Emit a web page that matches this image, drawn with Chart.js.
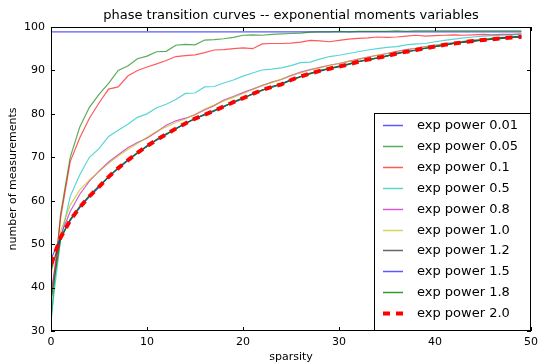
<!DOCTYPE html>
<html>
<head>
<meta charset="utf-8">
<script src="https://cdn.jsdelivr.net/npm/chart.js@4/dist/chart.umd.min.js"></script>
<style>
  html, body { margin: 0; padding: 0; background: #fff; }
</style>
</head>
<body>
<canvas id="chart" width="543" height="364"></canvas>
<script>
const chartTitle = "phase transition curves -- exponential moments variables";

const sparsity = [0, 1, 2, 3, 4, 5, 6, 7, 8, 9, 10, 11, 12, 13, 14, 15, 16, 17, 18, 19,
  20, 21, 22, 23, 24, 25, 26, 27, 28, 29, 30, 31, 32, 33, 34, 35, 36, 37, 38, 39,
  40, 41, 42, 43, 44, 45, 46, 47, 48, 49];

const xTicks = [0, 10, 20, 30, 40, 50];
const yTicks = [30, 40, 50, 60, 70, 80, 90, 100];

const power001 = [98.9, 98.9, 98.9, 98.9, 98.9, 98.9, 98.9, 98.9, 98.9, 98.9, 98.9, 98.9, 98.9, 98.9, 98.9, 98.9, 98.9, 98.9, 98.9, 98.9,
  98.9, 98.9, 98.9, 98.9, 98.9, 98.9, 98.9, 98.9, 98.9, 98.9, 98.9, 98.9, 98.9, 98.9, 98.9, 98.9, 98.9, 98.9, 98.9, 98.9,
  98.9, 98.9, 98.9, 98.9, 98.9, 98.9, 98.9, 98.9, 98.9, 98.9];
const power005 = [32, 57, 70, 77, 81.5, 84.5, 87, 90, 91, 92.7, 93.3, 94.3, 94.4, 95.8, 96, 95.9, 97, 97.1, 97.3, 97.6,
  98.1, 98.2, 98.1, 98.3, 98.4, 98.5, 98.6, 98.8, 98.9, 98.9, 99, 98.9, 99, 99, 99, 99, 99.1, 99, 99.1, 99.1,
  99.1, 99.1, 99.1, 99.1, 99.1, 99.1, 99.1, 99.1, 99.1, 99.1];
const power01 = [37, 56, 69, 74.5, 79, 82.5, 85.7, 86.2, 88.7, 90, 90.8, 91.5, 92.3, 93.2, 93.4, 93.6, 94.1, 94.7, 94.8, 95,
  95.2, 95, 96.1, 96.2, 96.2, 96.3, 96.5, 96.9, 96.8, 96.6, 96.9, 97.2, 97.4, 97.5, 97.7, 97.6, 97.7, 97.9, 98.1, 97.9,
  98, 98.1, 98.2, 98.1, 98.2, 98.3, 98.2, 98.3, 98.3, 98.4];
const power05 = [33, 51, 61, 66, 70, 72, 74.8, 76.2, 77.6, 79.2, 80, 81.4, 82.2, 83.3, 84.7, 84.8, 86.2, 86.3, 87.1, 87.8,
  88.7, 89.4, 90.1, 90.3, 90.6, 91.1, 91.8, 91.9, 92.6, 93.2, 93.5, 93.9, 94.3, 94.7, 95, 95.3, 95.5, 95.9, 96.1, 96.2,
  96.6, 96.9, 97.2, 97.5, 97.7, 97.9, 98, 98.1, 98.2, 98.3];
const power08 = [39, 52, 57.5, 61.5, 64.5, 66.8, 68.9, 70.6, 72.2, 73.4, 74.4, 75.8, 77.4, 78.4, 79, 79.8, 80.9, 81.9, 83.2, 84,
  84.9, 85.7, 86.5, 87.3, 87.9, 88.8, 89.6, 90.2, 90.7, 91.2, 91.6, 92.1, 92.6, 93.1, 93.5, 93.9, 94.4, 94.8, 95.1, 95.5,
  95.8, 96.1, 96.4, 96.7, 97, 97.2, 97.4, 97.6, 97.7, 97.9];
const power10 = [43, 53, 59, 62.5, 64.8, 66.7, 68.6, 70.3, 71.8, 73.2, 74.6, 76, 77, 78, 78.8, 79.9, 81.1, 82, 83, 83.8,
  84.7, 85.6, 86.6, 87.2, 88, 88.9, 89.4, 90.1, 90.6, 91.2, 91.6, 92.1, 92.5, 93, 93.5, 93.9, 94.3, 94.7, 95.1, 95.5,
  95.8, 96.1, 96.4, 96.7, 96.9, 97.2, 97.4, 97.5, 97.7, 97.9];
const power12 = [44, 51.3, 55.6, 58.7, 61.1, 63.3, 65.4, 67.6, 69.4, 71.1, 72.5, 74.1, 75.4, 76.5, 77.9, 78.8, 79.9, 80.8, 81.6, 82.8,
  83.7, 84.5, 85.4, 86.3, 86.9, 87.7, 88.5, 89.2, 89.9, 90.5, 91, 91.5, 92, 92.4, 92.9, 93.4, 93.8, 94.3, 94.7, 95.1,
  95.5, 95.8, 96.2, 96.5, 96.8, 97, 97.3, 97.5, 97.6, 97.8];
const power15 = [46.5, 51.6, 55.4, 58.4, 60.9, 63.1, 65.6, 67.4, 69.2, 70.9, 72.7, 73.9, 75.2, 76.7, 77.7, 79, 79.7, 80.6, 81.8, 82.6,
  83.5, 84.7, 85.5, 86.1, 86.9, 87.9, 88.6, 89.4, 89.8, 90.4, 90.8, 91.4, 92.1, 92.5, 92.8, 93.3, 94, 94.3, 94.6, 95.1,
  95.5, 95.9, 96.3, 96.5, 96.7, 97, 97.2, 97.4, 97.6, 97.7];
const power18 = [37, 51.2, 55.7, 58.6, 61.2, 63.4, 65.5, 67.5, 69.4, 71, 72.5, 74.1, 75.3, 76.5, 77.8, 78.9, 79.9, 80.7, 81.7, 82.7,
  83.6, 84.5, 85.5, 86.2, 86.8, 87.8, 88.6, 89.3, 90, 90.4, 90.9, 91.4, 92, 92.5, 92.9, 93.3, 93.9, 94.3, 94.7, 95.1,
  95.5, 95.9, 96.2, 96.5, 96.8, 97, 97.2, 97.4, 97.6, 97.8];
const power20 = [45.5, 51.5, 55.5, 58.5, 61, 63.2, 65.5, 67.5, 69.3, 71, 72.6, 74, 75.3, 76.6, 77.8, 78.9, 79.8, 80.7, 81.7, 82.7,
  83.6, 84.6, 85.5, 86.2, 86.8, 87.8, 88.6, 89.3, 89.9, 90.4, 90.9, 91.4, 92, 92.5, 92.9, 93.3, 93.9, 94.3, 94.7, 95.1,
  95.5, 95.9, 96.2, 96.5, 96.8, 97, 97.2, 97.4, 97.6, 97.7];

const seriesLabels = ["exp power 0.01", "exp power 0.05", "exp power 0.1", "exp power 0.5", "exp power 0.8",
  "exp power 1.0", "exp power 1.2", "exp power 1.5", "exp power 1.8", "exp power 2.0"];
const seriesValues = [power001, power005, power01, power05, power08, power10, power12, power15, power18, power20];
const seriesColors = ["rgba(0,0,255,0.65)", "rgba(0,128,0,0.65)", "rgba(255,0,0,0.65)", "rgba(0,191,191,0.65)",
  "rgba(191,0,191,0.65)", "rgba(191,191,0,0.65)", "rgba(0,0,0,0.6)", "rgba(0,0,255,0.65)", "rgba(0,128,0,0.8)", "#ff0000"];

const FONT = "'DejaVu Sans', sans-serif";

const datasets = seriesValues.map((vals, i) => {
  const last = i === seriesValues.length - 1;
  return {
    label: seriesLabels[i],
    data: vals.map((v, j) => ({ x: sparsity[j], y: v })),
    borderColor: seriesColors[i],
    borderWidth: last ? 4 : 1.2,
    borderDash: last ? [7, 6] : [],
    borderCapStyle: "butt",
    pointRadius: 0,
    tension: 0,
    fill: false,
    order: seriesValues.length - i, // later series on top
  };
});

// frame + inward ticks on all four sides, title over the plot area, boxed legend bottom right
const decorPlugin = {
  id: "decor",
  afterDraw(chart) {
    const { ctx, chartArea: a, scales } = chart;
    ctx.save();
    ctx.strokeStyle = "#000";
    ctx.lineWidth = 1;
    ctx.strokeRect(a.left + 0.5, a.top + 0.5, a.right - a.left - 1, a.bottom - a.top - 1);

    ctx.beginPath();
    xTicks.forEach((t) => {
      const px = Math.round(scales.x.getPixelForValue(t)) + 0.5;
      ctx.moveTo(px, a.bottom); ctx.lineTo(px, a.bottom - 4);
      ctx.moveTo(px, a.top); ctx.lineTo(px, a.top + 4);
    });
    yTicks.forEach((t) => {
      const py = Math.round(scales.y.getPixelForValue(t)) + 0.5;
      ctx.moveTo(a.left, py); ctx.lineTo(a.left + 4, py);
      ctx.moveTo(a.right, py); ctx.lineTo(a.right - 4, py);
    });
    ctx.stroke();

    // title
    ctx.fillStyle = "#000";
    ctx.font = "13px " + FONT;
    ctx.textAlign = "center";
    ctx.textBaseline = "middle";
    ctx.fillText(chartTitle, (a.left + a.right) / 2, 16);

    // legend
    const w = 157, h = 218, rowH = 20.9;
    const lx = a.right - w, ly = a.bottom - h;
    ctx.fillStyle = "#fff";
    ctx.fillRect(lx, ly, w, h);
    ctx.strokeStyle = "#000";
    ctx.strokeRect(lx + 0.5, ly + 0.5, w - 1, h - 1);
    ctx.font = "13px " + FONT;
    ctx.textAlign = "left";
    chart.data.datasets.forEach((ds, i) => {
      const cy = Math.round(ly + 12 + i * rowH) + 0.5;
      ctx.beginPath();
      ctx.strokeStyle = ds.borderColor;
      ctx.lineWidth = ds.borderWidth === 4 ? 4 : 1.5;
      ctx.lineCap = "butt";
      ctx.setLineDash(ds.borderDash);
      ctx.moveTo(lx + 9, cy); ctx.lineTo(lx + 29, cy);
      ctx.stroke();
      ctx.setLineDash([]);
      ctx.fillStyle = "#000";
      ctx.fillText(ds.label, lx + 43, cy);
    });
    ctx.restore();
  },
};

new Chart(document.getElementById("chart"), {
  type: "line",
  data: { datasets },
  options: {
    responsive: false,
    animation: false,
    layout: { padding: { left: 0, right: 2, top: 27, bottom: 0 } },
    plugins: {
      legend: { display: false },
      tooltip: { enabled: false },
      title: { display: false },
    },
    scales: {
      x: {
        type: "linear",
        min: 0,
        max: 50,
        afterBuildTicks: (s) => { s.ticks = xTicks.map((v) => ({ value: v })); },
        afterFit: (s) => { s.height = 33; },
        ticks: { padding: 5, color: "#000", maxRotation: 0, font: { family: FONT, size: 11 } },
        grid: { display: false, drawTicks: false },
        border: { display: false },
        title: { display: true, text: "sparsity", color: "#000", font: { family: FONT, size: 11 }, padding: 0 },
      },
      y: {
        min: 30,
        max: 100,
        afterBuildTicks: (s) => { s.ticks = yTicks.map((v) => ({ value: v })); },
        afterFit: (s) => { s.width = 51; },
        ticks: { padding: 6, color: "#000", font: { family: FONT, size: 11 } },
        grid: { display: false, drawTicks: false },
        border: { display: false },
        title: { display: true, text: "number of measurements", color: "#000", font: { family: FONT, size: 11 }, padding: { top: 7, bottom: 0 } },
      },
    },
  },
  plugins: [decorPlugin],
});
</script>
</body>
</html>
